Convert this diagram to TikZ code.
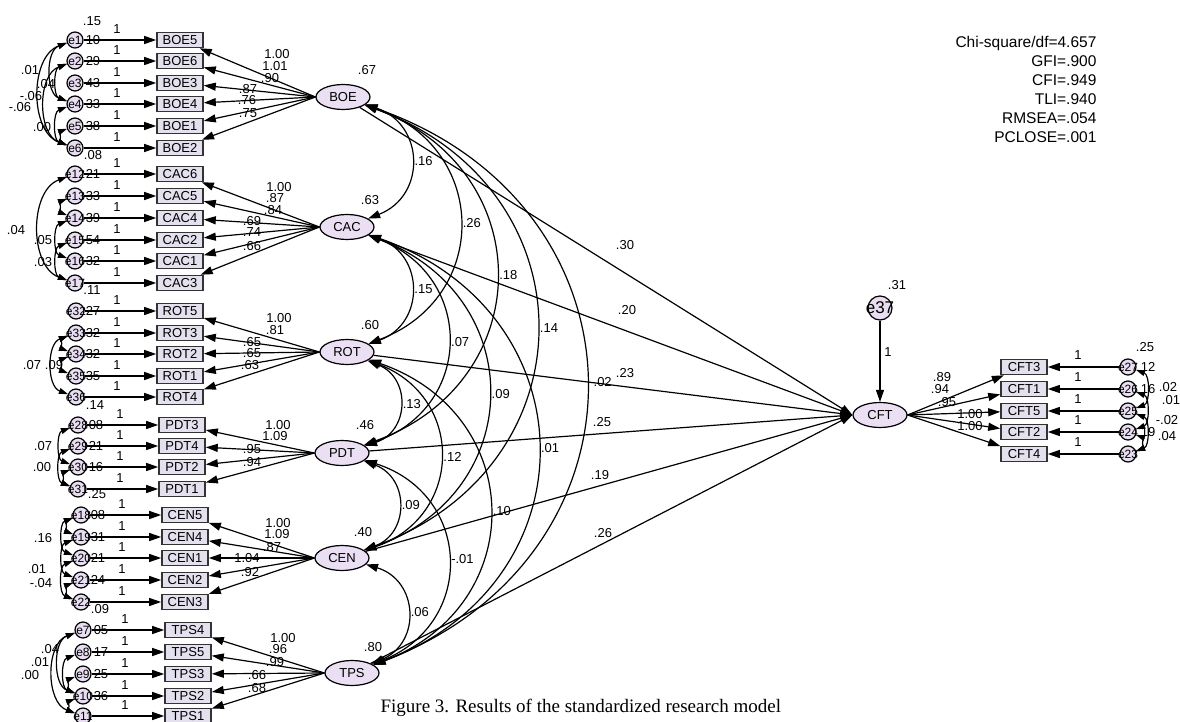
\documentclass[tikz,border=0pt]{standalone}
\usepackage{fontspec}
\setmainfont{Liberation Sans}
\newfontfamily\capfont{Liberation Serif}
\usetikzlibrary{arrows.meta,shapes.geometric}
\definecolor{obsfill}{HTML}{E4E0EE}
\definecolor{latfill}{HTML}{EADFF3}
\definecolor{errfill}{HTML}{E9DDF1}

\begin{document}
\begin{tikzpicture}[x=1pt, y=-1pt, >={Triangle[length=12pt,width=8pt]}, line width=1.2pt,
  every node/.style={font=\fontsize{13}{13}\selectfont, inner sep=0pt},
  lat/.style={ellipse, draw, fill=latfill, minimum width=54pt, minimum height=25pt},
  obs/.style={rectangle, draw=black!80, fill=obsfill, minimum width=46pt, minimum height=15pt, line width=1.6pt},
  err/.style={circle, draw, fill=errfill, minimum size=16pt},
  etext/.style={font=\fontsize{12}{12}\selectfont},
  cov/.style={<->, bend left=70, looseness=1.4},
  ecov/.style={<->, >={Triangle[length=9pt,width=6pt]}, bend right=70},
  rcov/.style={<->, >={Triangle[length=9pt,width=6pt]}, bend left=70}]
\useasboundingbox (0,0) rectangle (1180,722);

\node[lat] (boe) at (343,97) {BOE};
\node[lat] (cac) at (347,227) {CAC};
\node[lat] (rot) at (347,352) {ROT};
\node[lat] (pdt) at (342,453) {PDT};
\node[lat] (cen) at (342,558) {CEN};
\node[lat] (tps) at (352,673) {TPS};
\node[lat] (cft) at (880,415) {CFT};
\node[err, minimum size=24pt] (e37) at (880,308) {};
\node[font=\fontsize{17}{17}\selectfont] at (e37) {e37};

% BOE
\foreach \e/\b/\y/\v/\w/\lx/\ly in {e1/BOE5/40/10/1.00/277/54, e2/BOE6/61/29/1.01/275/66,
    e3/BOE3/83/43/.90/270/78, e4/BOE4/104/33/.87/248/89, e5/BOE1/126/38/.76/247/100,
    e6/BOE2/148//.75/248/113}{
  \node[err] (\e) at (75,\y) {};
  \node[etext] at (\e) {\e};
  \node[obs] (\b) at (180,\y) {\b};
  \node at (93,\y) {\v};
  \node at (117,\y-11) {1};
  \node at (\lx,\ly) {\w};
  \draw[->] (\e) -- (\b);
  \draw[->] (boe.west) -- (\b);
}
\draw[ecov] (e1) to (e6);
\draw[ecov] (e1) to (e4);
\draw[ecov] (e2) to (e4);
\draw[ecov] (e2) to (e6);
\draw[ecov] (e4) to (e6);
\draw[ecov] (e5) to (e6);
\node at (92,21) {.15}; \node at (93,155) {.08}; \node at (367,70) {.67};
\node at (30,70) {.01}; \node at (46,84) {.04}; \node at (31,96) {-.06};
\node at (20,107) {-.06}; \node at (42,127) {.00};

% CAC
\foreach \e/\b/\y/\v/\w/\lx/\ly in {e12/CAC6/174/21/1.00/279/187, e13/CAC5/196/33/.87/275/198,
    e14/CAC4/218/39/.84/273/210, e15/CAC2/240/54/.69/252/221, e16/CAC1/261/32/.74/252/232,
    e17/CAC3/283//.66/252/246}{
  \node[err] (\e) at (75,\y) {};
  \node[etext] at (\e) {\e};
  \node[obs] (\b) at (180,\y) {\b};
  \node at (93,\y) {\v};
  \node at (117,\y-11) {1};
  \node at (\lx,\ly) {\w};
  \draw[->] (\e) -- (\b);
  \draw[->] (cac.west) -- (\b);
}
\draw[ecov] (e12) to (e17);
\draw[ecov] (e13) to (e14);
\draw[ecov] (e14) to (e16);
\draw[ecov] (e15) to (e17);
\node at (92,290) {.11}; \node at (370,200) {.63};
\node at (16,230) {.04}; \node at (43,240) {.05}; \node at (43,262) {.03};

% ROT
\foreach \e/\b/\y/\v/\w/\lx/\ly in {e32/ROT5/311/27/1.00/279/318, e33/ROT3/333/32/.81/275/330,
    e34/ROT2/354/32/.65/252/342, e35/ROT1/376/35/.65/252/353, e36/ROT4/397//.63/250/365}{
  \node[err] (\e) at (76,\y) {};
  \node[etext] at (\e) {\e};
  \node[obs] (\b) at (180,\y) {\b};
  \node at (93,\y) {\v};
  \node at (117,\y-11) {1};
  \node at (\lx,\ly) {\w};
  \draw[->] (\e) -- (\b);
  \draw[->] (rot.west) -- (\b);
}
\draw[ecov] (e33) to (e36);
\draw[ecov] (e33) to (e34);
\draw[ecov] (e34) to (e35);
\node at (95,405) {.14}; \node at (370,325) {.60};
\node at (32,365) {.07}; \node at (54,365) {.09};

% PDT
\foreach \e/\b/\y/\v/\w/\lx/\ly in {e28/PDT3/425/08/1.00/278/425, e29/PDT4/446/21/1.09/275/436,
    e30/PDT2/467/16/.95/252/449, e31/PDT1/489//.94/252/462}{
  \node[err] (\e) at (78,\y) {};
  \node[etext] at (\e) {\e};
  \node[obs] (\b) at (182,\y) {\b};
  \node at (96,\y) {\v};
  \node at (120,\y-11) {1};
  \node at (\lx,\ly) {\w};
  \draw[->] (\e) -- (\b);
  \draw[->] (pdt.west) -- (\b);
}
\draw[ecov] (e28) to (e30);
\draw[ecov] (e29) to (e31);
\draw[ecov] (e30) to (e31);
\node at (97,494) {.25}; \node at (365,425) {.46};
\node at (43,446) {.07}; \node at (42,467) {.00};

% CEN
\foreach \e/\b/\y/\v/\w/\lx/\ly in {e18/CEN5/515/08/1.00/278/523, e19/CEN4/537/31/1.09/277/534,
    e20/CEN1/558/21/.87/272/547, e21/CEN2/580/24/1.04/247/558, e22/CEN3/602//.92/250/572}{
  \node[err] (\e) at (81,\y) {};
  \node[etext] at (\e) {\e};
  \node[obs] (\b) at (185,\y) {\b};
  \node at (98,\y) {\v};
  \node at (122,\y-11) {1};
  \node at (\lx,\ly) {\w};
  \draw[->] (\e) -- (\b);
  \draw[->] (cen.west) -- (\b);
}
\draw[ecov] (e18) to (e19);
\draw[ecov] (e18) to (e20);
\draw[ecov] (e19) to (e21);
\draw[ecov] (e20) to (e22);
\draw[ecov] (e21) to (e22);
\node at (100,609) {.09}; \node at (363,532) {.40};
\node at (43,538) {.16}; \node at (37,569) {.01}; \node at (41,583) {-.04};

% TPS
\foreach \e/\b/\y/\v/\w/\lx/\ly in {e7/TPS4/630/05/1.00/283/638, e8/TPS5/652/17/.96/278/649,
    e9/TPS3/674/25/.99/275/662, e10/TPS2/696/36/.66/257/675, e11/TPS1/716//.68/257/688}{
  \node[err] (\e) at (83,\y) {};
  \node[etext] at (\e) {\e};
  \node[obs] (\b) at (188,\y) {\b};
  \node at (101,\y) {\v};
  \node at (125,\y-11) {1};
  \node at (\lx,\ly) {\w};
  \draw[->] (\e) -- (\b);
  \draw[->] (tps.west) -- (\b);
}
\draw[ecov] (e7) to (e11);
\draw[ecov] (e7) to (e10);
\draw[ecov] (e8) to (e10);
\draw[ecov] (e9) to (e10);
\draw[ecov] (e10) to (e11);
\node at (373,647) {.80};
\node at (50,649) {.04}; \node at (40,662) {.01}; \node at (30,675) {.00};

% CFT
\foreach \e/\b/\y/\v/\w/\lx/\ly in {e27/CFT3/367/12/.89/942/377, e26/CFT1/389/16/.94/940/389,
    e25/CFT5/411//.95/947/402, e24/CFT2/432/19/1.00/970/414, e23/CFT4/454//1.00/970/426}{
  \node[err] (\e) at (1128,\y) {};
  \node[etext] at (\e) {\e};
  \node[obs] (\b) at (1024,\y) {\b};
  \node at (1148,\y) {\v};
  \node at (1078,\y-12) {1};
  \node at (\lx,\ly) {\w};
  \draw[->] (\e) -- (\b);
  \draw[->] (cft.east) -- (\b);
}
\draw[rcov] (e27) to (e25);
\draw[rcov] (e26) to (e24);
\draw[rcov] (e25) to (e23);
\draw[rcov] (e24) to (e23);
\node at (1145,347) {.25};
\node at (1168,387) {.02}; \node at (1171,400) {.01};
\node at (1167,420) {-.02}; \node at (1167,436) {.04};

% structural paths
\path
(boe) edge[->] (cft.west)
(cac) edge[->] (cft.west)
(rot) edge[->] (cft.west)
(pdt) edge[->] (cft.west)
(cen) edge[->] (cft.west)
(tps) edge[->] (cft.west)
(e37) edge[->] (cft);
\node at (625,245) {.30}; \node at (627,310) {.20}; \node at (625,373) {.23};
\node at (602,422) {.25}; \node at (600,475) {.19}; \node at (603,533) {.26};
\node at (888,352) {1}; \node at (897,285) {.31};

% covariances
\path
(boe) edge[cov] node[right=3pt] {.16} (cac)
(boe) edge[cov] node[right=3pt] {.26} (rot)
(boe) edge[cov] node[right=3pt] {.18} (pdt)
(boe) edge[cov] node[right=3pt] {.14} (cen)
(boe) edge[cov] node[right=3pt] {-.02} (tps)
(cac) edge[cov] node[right=3pt] {.15} (rot)
(cac) edge[cov] node[right=3pt] {.07} (pdt)
(cac) edge[cov] node[right=3pt] {.09} (cen)
(cac) edge[cov] node[right=3pt] {.01} (tps)
(rot) edge[cov] node[right=3pt] {.13} (pdt)
(rot) edge[cov] node[right=3pt] {.12} (cen)
(rot) edge[cov] node[right=3pt] {.10} (tps)
(pdt) edge[cov] node[right=3pt] {.09} (cen)
(pdt) edge[cov] node[right=3pt] {-.01} (tps)
(cen) edge[cov] node[right=3pt] {.06} (tps);

\node[anchor=north east, align=right, font=\fontsize{15.5}{19}\selectfont] (fit) at (1097,36)
  {Chi-square/df=4.657\\GFI=.900\\CFI=.949\\TLI=.940\\RMSEA=.054\\PCLOSE=.001};
\node[anchor=west, font=\capfont\fontsize{19}{19}\selectfont] (cap) at (380,708)
  {Figure 3. Results of the standardized research model};
\end{tikzpicture}
\end{document}
